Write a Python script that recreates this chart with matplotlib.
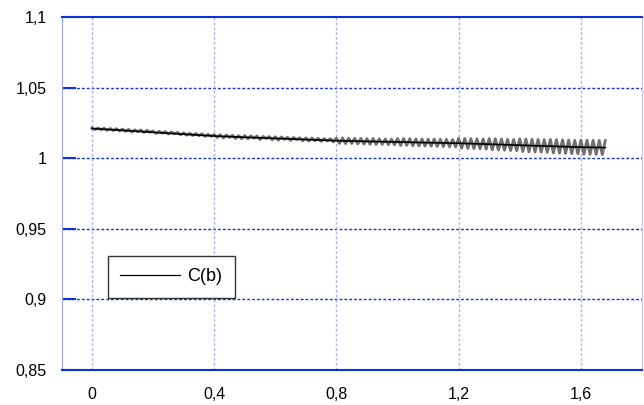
import matplotlib.pyplot as plt
import numpy as np

# Data (x step 0.01, oscillating raw signal)
x_raw = np.round(np.arange(0, 1.685, 0.01), 2)
c_raw = [
    1.0215, 1.0203, 1.0214, 1.0201, 1.0212, 1.0198, 1.0210, 1.0196, 1.0209, 1.0193,
    1.0206, 1.0191, 1.0204, 1.0185, 1.0201, 1.0188, 1.0200, 1.0182, 1.0197, 1.0185,
    1.0192, 1.0175, 1.0190, 1.0177, 1.0188, 1.0171, 1.0186, 1.0173, 1.0183, 1.0165,
    1.0179, 1.0163, 1.0177, 1.0161, 1.0175, 1.0159, 1.0173, 1.0154, 1.0169, 1.0155,
    1.0168, 1.0146, 1.0167, 1.0143, 1.0165, 1.0147, 1.0162, 1.0140, 1.0160, 1.0138,
    1.0160, 1.0137, 1.0158, 1.0141, 1.0157, 1.0132, 1.0154, 1.0139, 1.0153, 1.0130,
    1.0152, 1.0128, 1.0151, 1.0133, 1.0148, 1.0126, 1.0147, 1.0131, 1.0145, 1.0123,
    1.0144, 1.0121, 1.0143, 1.0124, 1.0141, 1.0119, 1.0139, 1.0122, 1.0138, 1.0115,
    1.0143, 1.0105, 1.0144, 1.0103, 1.0142, 1.0104, 1.0141, 1.0101, 1.0140, 1.0100,
    1.0139, 1.0099, 1.0140, 1.0097, 1.0137, 1.0098, 1.0136, 1.0096, 1.0135, 1.0095,
    1.0140, 1.0090, 1.0139, 1.0091, 1.0138, 1.0088, 1.0137, 1.0087, 1.0136, 1.0086,
    1.0135, 1.0085, 1.0136, 1.0083, 1.0134, 1.0082, 1.0133, 1.0081, 1.0132, 1.0080,
    1.0141, 1.0071, 1.0140, 1.0069, 1.0139, 1.0068, 1.0137, 1.0066, 1.0136, 1.0064,
    1.0139, 1.0059, 1.0138, 1.0057, 1.0136, 1.0056, 1.0134, 1.0054, 1.0133, 1.0053,
    1.0137, 1.0047, 1.0136, 1.0045, 1.0134, 1.0044, 1.0133, 1.0042, 1.0131, 1.0041,
    1.0133, 1.0037, 1.0132, 1.0035, 1.0130, 1.0034, 1.0129, 1.0032, 1.0127, 1.0031,
    1.0128, 1.0028, 1.0128, 1.0027, 1.0127, 1.0026, 1.0126, 1.0025, 1.0125,
]

# Dark centre trace
x_mean = [0, 0.1, 0.2, 0.3, 0.4, 0.5, 0.6, 0.7, 0.8, 0.9, 1.0, 1.1, 1.2, 1.3, 1.4, 1.5, 1.6, 1.68]
c_mean = [1.0210, 1.0197, 1.0183, 1.0170, 1.0157, 1.0148, 1.0140, 1.0132, 1.0124,
          1.0119, 1.0115, 1.0110, 1.0106, 1.0099, 1.0092, 1.0085, 1.0078, 1.0075]

x_ticks = [0, 0.4, 0.8, 1.2, 1.6]
x_labels = ["0", "0,4", "0,8", "1,2", "1,6"]
y_ticks = [0.85, 0.9, 0.95, 1.0, 1.05, 1.1]
y_labels = ["0,85", "0,9", "0,95", "1", "1,05", "1,1"]

plt.rcParams["font.family"] = ["Liberation Sans", "DejaVu Sans"]

fig = plt.figure(figsize=(6.44, 4.05), dpi=100)
ax = fig.add_axes([62 / 644, 1 - 370 / 405, 580 / 644, 353 / 405])

ax.plot(x_raw, c_raw, color="#707070", lw=2.0, zorder=3)
ax.plot(x_mean, c_mean, color="black", lw=1.2, zorder=4, label="C(b)")

ax.set_xlim(-0.098, 1.8)
ax.set_ylim(0.85, 1.1)
ax.set_xticks(x_ticks)
ax.set_xticklabels(x_labels)
ax.set_yticks(y_ticks)
ax.set_yticklabels(y_labels)
ax.tick_params(axis="y", direction="in", length=10, width=1.5, color="#1030e0",
               labelsize=11.5, pad=11)
ax.tick_params(axis="x", length=0, labelsize=11.5, pad=12)

for y in y_ticks[1:-1]:
    ax.axhline(y, color="#1030e0", lw=1, ls=(0, (2, 1.5)), zorder=1)
for x in x_ticks:
    ax.axvline(x, color="#a8b4f0", lw=1, ls=(0, (2, 1.5)), zorder=1)

ax.spines["top"].set_color("#1030e0")
ax.spines["bottom"].set_color("#1030e0")
ax.spines["top"].set_linewidth(1.5)
ax.spines["bottom"].set_linewidth(1.5)
ax.spines["left"].set_color("#9aa4ee")
ax.spines["right"].set_color("#c0c8f4")

leg = ax.legend(loc="lower left", bbox_to_anchor=(0.079, 0.204), borderaxespad=0,
                frameon=True, fancybox=False, edgecolor="black", fontsize=13,
                handlelength=3.3, borderpad=0.7, handletextpad=0.4)
leg.get_frame().set_linewidth(1.0)
for line in leg.get_lines():
    line.set_linewidth(0.9)

fig.savefig("out.png", dpi=100)
